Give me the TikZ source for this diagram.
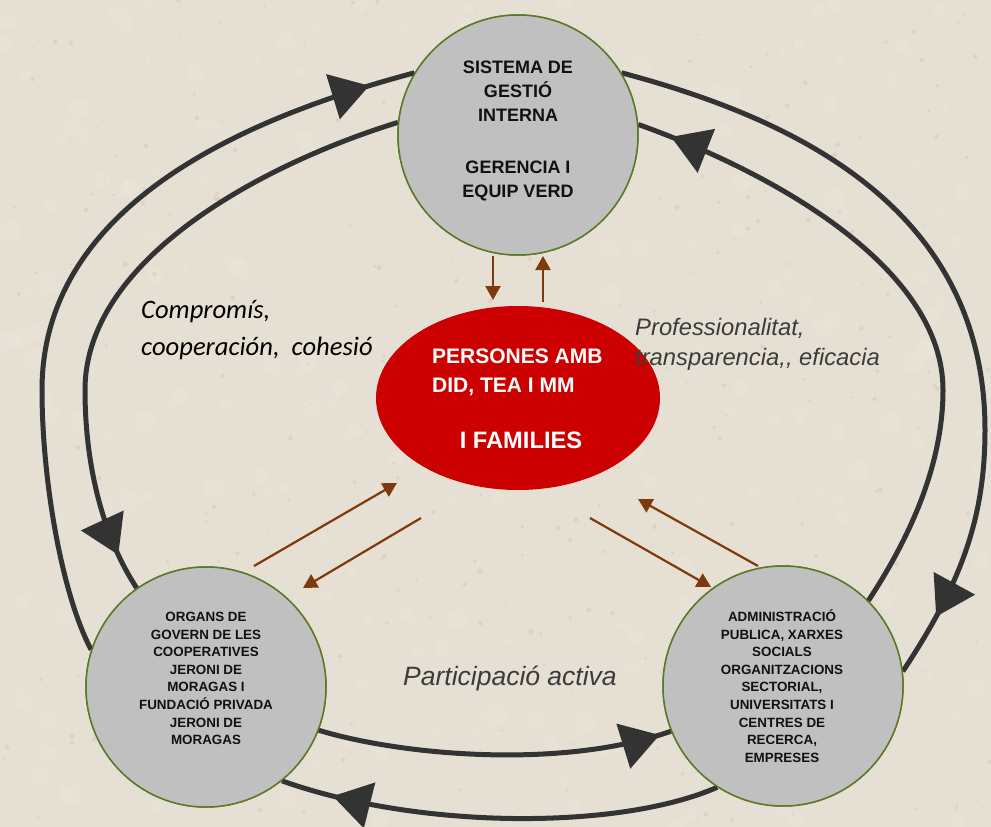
\documentclass[tikz,border=0pt]{standalone}
\usepackage{fontspec}
\setmainfont{Liberation Sans}
\newfontfamily\carl{Carlito}
\usetikzlibrary{shapes.geometric,arrows.meta,decorations.markings}
\definecolor{bgc}{HTML}{E6DFD3}
\definecolor{speckd}{HTML}{C9C1B3}
\definecolor{speckl}{HTML}{F0EBE2}
\definecolor{ringc}{HTML}{333333}
\definecolor{circg}{HTML}{C0C0C0}
\definecolor{circb}{HTML}{5A7A2A}
\definecolor{redc}{HTML}{CC0000}
\definecolor{brownc}{HTML}{7F3A0C}
\definecolor{labc}{HTML}{3C3C3C}
\definecolor{txtc}{HTML}{111111}
\begin{document}
\begin{tikzpicture}[x=1pt,y=-1pt,
  ring/.style={draw=ringc,line width=5pt},
  ringarr/.style={ring,postaction={decorate},
    decoration={markings,mark=at position #1 with {\arrow[ringc]{Triangle[length=38pt,width=46pt]}}}},
  bubble/.style={circle,draw=circb,line width=1.5pt,fill=circg,minimum size=240pt,inner sep=0pt},
  hub/.style={ellipse,fill=redc,minimum width=284pt,minimum height=184pt,inner sep=0pt},
  brarrow/.style={draw=brownc,line width=2.2pt,-{Triangle[length=14pt,width=15pt]}},
  bigtxt/.style={font=\bfseries\fontsize{18}{24}\selectfont,align=center,inner sep=0pt,text=txtc},
  smalltxt/.style={font=\bfseries\fontsize{13.4}{17.6}\selectfont,align=center,inner sep=0pt,text=txtc},
  redtxt/.style={font=\bfseries\fontsize{21}{28}\selectfont,text=white,inner sep=0pt}
]
\useasboundingbox (0,0) rectangle (991,827);
\clip (0,0) rectangle (991,827);
\fill[bgc] (0,0) rectangle (991,827);
% paper texture
\pgfmathsetseed{4711}
\foreach \i in {1,...,350}{
  \pgfmathsetmacro\xx{rnd*991}\pgfmathsetmacro\yy{rnd*827}\pgfmathsetmacro\rr{0.8+rnd*1.6}
  \fill[speckd,opacity=0.4] (\xx,\yy) circle[radius=\rr];
}
\foreach \i in {1,...,250}{
  \pgfmathsetmacro\xx{rnd*991}\pgfmathsetmacro\yy{rnd*827}\pgfmathsetmacro\rr{3+rnd*8}
  \fill[speckl,opacity=0.2] (\xx,\yy) circle[radius=\rr];
}

% nodes (placed first so anchors exist; redrawn on top below)
\path node[bubble] (top) at (518,135) {}
      node[bubble] (bl) at (206,687) {}
      node[bubble] (br) at (783,686) {};

% outer ring (clockwise)
\draw[ringarr=-47pt] (bl.162) .. controls (62,595) and (42,480) .. (42,390)
      .. controls (42,200) and (256,115) .. (top.149);
\draw[ringarr=-64pt] (top.31) .. controls (780,115) and (985,200) .. (985,430)
      .. controls (985,520) and (960,585) .. (br.7.7);
\draw[ringarr=-53pt] (br.237) .. controls (620,830) and (420,830) .. (bl.-51.5);

% inner ring (counter-clockwise)
\draw[ringarr=-38pt] (top.174) .. controls (260,165) and (85,260) .. (85,390)
      .. controls (85,470) and (105,540) .. (bl.125);
\draw[ringarr=-12pt] (bl.-21) .. controls (400,755) and (560,770) .. (br.202);
\draw[ringarr=-35pt] (br.45) .. controls (905,545) and (943,470) .. (943,390)
      .. controls (943,270) and (780,175) .. (top.5);

% circles on top of the rings
\node[bubble] (top2) at (top) {};
\node[bubble] (bl2) at (bl) {};
\node[bubble] (br2) at (br) {};
\node[hub] (mid) at (518,398) {};

% brown arrows
\coordinate (a1s) at (493,256); \coordinate (a1e) at (493,300);
\coordinate (a2s) at (543,302); \coordinate (a2e) at (543,256);
\coordinate (a3s) at (254,566); \coordinate (a3e) at (397,483);
\coordinate (a4s) at (421,518); \coordinate (a4e) at (303,588);
\coordinate (a5s) at (590,518); \coordinate (a5e) at (711,587);
\coordinate (a6s) at (758,566); \coordinate (a6e) at (638,499);
\draw[brarrow] (a1s) -- (a1e);
\draw[brarrow] (a2s) -- (a2e);
\draw[brarrow] (a3s) -- (a3e);
\draw[brarrow] (a4s) -- (a4e);
\draw[brarrow] (a5s) -- (a5e);
\draw[brarrow] (a6s) -- (a6e);

% texts
\node[bigtxt] (topT) at (518,131) {SISTEMA DE\\GESTIÓ\\INTERNA\\[28pt]GERENCIA I\\EQUIP VERD};
\node[smalltxt] (blT) at (206,678.5) {ORGANS DE\\GOVERN DE LES\\COOPERATIVES\\JERONI DE\\MORAGAS I\\FUNDACIÓ PRIVADA\\JERONI DE\\MORAGAS};
\node[smalltxt] (brT) at (782,686) {ADMINISTRACIÓ\\PUBLICA, XARXES\\SOCIALS\\ORGANITZACIONS\\SECTORIAL,\\UNIVERSITATS I\\CENTRES DE\\RECERCA,\\EMPRESES};
\node[redtxt,anchor=base west] (p1) at (432,363) {PERSONES AMB};
\node[redtxt,anchor=base west] (p2) at (432,392) {DID, TEA I MM};
\node[redtxt,font=\bfseries\fontsize{23.7}{28}\selectfont,anchor=base] (p3) at (521,448) {I FAMILIES};

\node[font=\carl\itshape\fontsize{26.6}{37}\selectfont,text=black,align=left,anchor=west,inner sep=0pt] (lab1) at (141,330) {Compromís,\\cooperación,\ \ cohesió};
\node[font=\itshape\fontsize{23.8}{30}\selectfont,text=labc,align=left,anchor=west,inner sep=0pt] (lab2) at (635,344) {Professionalitat,\\transparencia,\kern0pt ,\kern0pt\ eficacia};
\node[font=\itshape\fontsize{26.5}{30}\selectfont,text=labc,anchor=base west,inner sep=0pt] (lab3) at (403,685) {Participació activa};
\end{tikzpicture}
\end{document}
